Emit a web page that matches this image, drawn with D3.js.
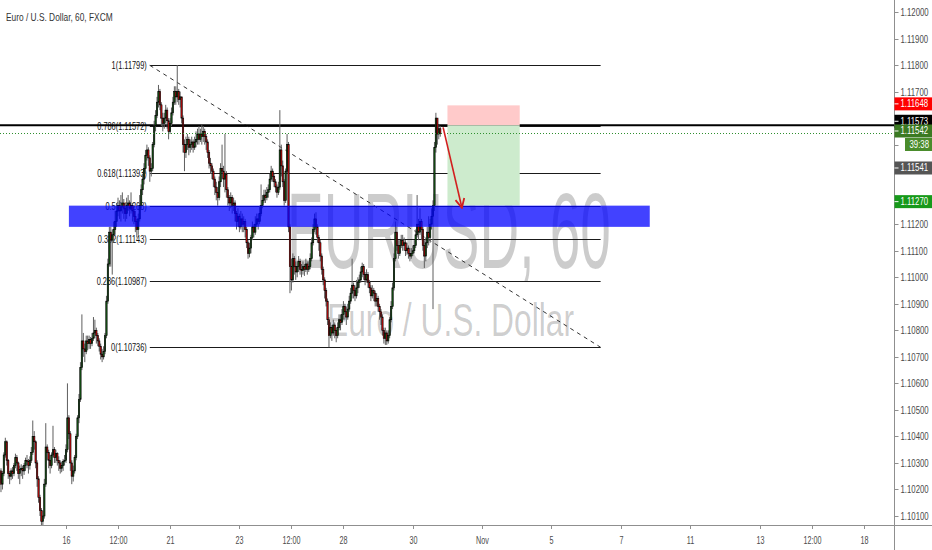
<!DOCTYPE html>
<html lang="en">
<head>
<meta charset="UTF-8">
<title>EURUSD, 60</title>
<style>
    html, body { margin: 0; padding: 0; background: #fff; }
    svg { display: block; font-family: "Liberation Sans", Arial, sans-serif; }
</style>
</head>
<body>
<svg id="chart" width="932" height="550"></svg>

<script src="https://cdnjs.cloudflare.com/ajax/libs/d3/7.8.5/d3.min.js"></script>
<script>
// hourly bars, EUR/USD FXCM
var firstOpen = 1.1027;
var firstHour = -45; // hours from Oct 16 00:00 (trading hours only)

var closes = [
    1.1022,1.1026,1.1033,1.1038,1.1031,1.1026,1.1025,1.1027,1.1026,1.1029,
    1.1032,1.1030,1.1026,1.10275,1.1028,1.1027,1.1029,1.1031,1.10305,1.1029,
    1.1031,1.1034,1.1040,1.1038,1.1030,1.1024,1.1017,1.1012,1.1008,1.1010,
    1.1022,1.1036,1.1034,1.1031,1.1029,1.1033,1.1035,1.1032,1.10335,1.1031,
    1.1030,1.1028,1.1029,1.10305,1.1031,1.1035,1.1047,1.1041,1.1030,1.1025,
    1.1027,1.1032,1.1040,1.1047,1.1054,1.1066,1.1076,1.1073,1.1072,1.1076,
    1.1075,1.10765,1.1075,1.1077,1.1079,1.1080,1.1078,1.1076,1.1074,1.1071,
    1.1070,1.1072,1.1078,1.1091,1.1105,1.1117,1.1114,1.1116,1.1118,1.1121,
    1.1125,1.1127,1.1125,1.11265,1.1128,1.1126,1.1124,1.1127,1.1128,1.1126,
    1.1127,1.1125,1.1123,1.1121,1.1118,1.1122,1.1127,1.1133,1.1137,1.1141,
    1.1146,1.1148,1.1145,1.1140,1.1141,1.1150,1.1157,1.1161,1.1166,1.1170,
    1.1165,1.1160,1.1158,1.1160,1.1163,1.1159,1.1155,1.1158,1.1162,1.1166,
    1.1170,1.1168,1.1170,1.1167,1.1168,1.1160,1.1150,1.1147,1.1150,1.1152,
    1.1149,1.1150,1.1151,1.1149,1.1151,1.1152,1.1154,1.1152,1.1154,1.1153,
    1.1155,1.1153,1.1151,1.1147,1.1143,1.1142,1.1140,1.1137,1.1134,1.1132,
    1.1130,1.1136,1.1141,1.1140,1.1137,1.1139,1.1133,1.1130,1.1128,1.1130,
    1.1127,1.1128,1.1124,1.1121,1.1123,1.1119,1.1122,1.1120,1.1121,1.1118,
    1.1113,1.1109,1.1111,1.1115,1.1119,1.1117,1.1120,1.1122,1.1121,1.1124,
    1.1127,1.1129,1.1131,1.1130,1.1132,1.1133,1.1137,1.1140,1.1138,1.1136,
    1.1134,1.1132,1.1134,1.1148,1.1142,1.1136,1.1129,1.1140,1.1150,1.1119,
    1.1104,1.1099,1.1107,1.1104,1.1102,1.1104,1.1106,1.1103,1.11025,1.1104,
    1.1103,1.1105,1.1103,1.1104,1.1107,1.1113,1.1118,1.1122,1.1119,1.1115,
    1.1113,1.1108,1.1103,1.1099,1.1095,1.1091,1.1084,1.1078,1.1081,1.1079,
    1.1082,1.1080,1.1078,1.1081,1.1084,1.1083,1.1086,1.1089,1.1087,1.1085,
    1.1088,1.1091,1.1094,1.1097,1.1095,1.1093,1.1096,1.1098,1.1099,1.1102,
    1.1104,1.1101,1.1099,1.1101,1.1098,1.1096,1.1093,1.1095,1.1094,1.1091,
    1.1092,1.1089,1.1087,1.1085,1.1080,1.1077,1.1079,1.1076,1.1078,1.1084,
    1.1089,1.1096,1.1107,1.1117,1.1112,1.1109,1.1112,1.1114,1.1112,1.1113,
    1.1110,1.1111,1.1109,1.1108,1.1109,1.1110,1.1112,1.1116,1.1120,1.1117,
    1.1121,1.1118,1.1112,1.1108,1.1113,1.1117,1.1115,1.1120,1.1123,1.1127,
    1.1149,1.1160,1.1154,1.1156,1.11542
];

var highs = [
    1.1028,1.1027,1.1034,1.10395,1.10385,1.10315,1.1027,1.1028,1.10285,1.1030,
    1.10335,1.1033,1.10305,1.1029,1.10295,1.1029,1.1030,1.1032,1.1033,1.10315,
    1.10325,1.1036,1.1046,1.1042,1.10385,1.1031,1.1025,1.1018,1.1013,1.1012,
    1.1024,1.1045,1.1037,1.1035,1.1033,1.1034,1.1044,1.1036,1.1035,1.1034,
    1.10325,1.1031,1.10305,1.10315,1.1033,1.1037,1.1060,1.1048,1.1042,1.1031,
    1.1029,1.1033,1.1041,1.1048,1.1056,1.1068,1.1086,1.1079,1.1075,1.1078,
    1.1078,1.1078,1.10775,1.1079,1.1085,1.1084,1.1081,1.1079,1.1077,1.1075,
    1.1073,1.1074,1.1079,1.1093,1.1107,1.1119,1.1119,1.1118,1.1121,1.1125,
    1.1128,1.1130,1.1129,1.1131,1.1132,1.11295,1.1128,1.1130,1.1131,1.1129,
    1.1132,1.1128,1.1127,1.1125,1.1122,1.1124,1.1131,1.1135,1.1139,1.1143,
    1.1148,1.1150,1.1149,1.1146,1.1143,1.1151,1.1159,1.1163,1.1168,1.11725,
    1.1171,1.1166,1.1162,1.1162,1.1165,1.1164,1.1160,1.1160,1.1164,1.1168,
    1.1172,1.1172,1.1180,1.1171,1.1170,1.1168,1.1161,1.1152,1.1153,1.1154,
    1.1153,1.1152,1.1153,1.1152,1.1153,1.1155,1.1156,1.1157,1.1156,1.11575,
    1.1157,1.1156,1.1154,1.1152,1.1148,1.1145,1.1143,1.1141,1.1138,1.1136,
    1.1134,1.1138,1.1143,1.1150,1.1142,1.1154,1.1140,1.1134,1.1131,1.1132,
    1.1131,1.1130,1.1129,1.1125,1.1126,1.1124,1.1125,1.1124,1.1123,1.1122,
    1.1119,1.1114,1.1113,1.1116,1.1121,1.1120,1.1123,1.1124,1.1124,1.1127,
    1.1135,1.1131,1.1133,1.1133,1.1134,1.1135,1.1139,1.1142,1.1141,1.1139,
    1.1137,1.1135,1.1136,1.1163,1.1150,1.1144,1.1137,1.1141,1.1154,1.1151,
    1.1120,1.1107,1.1109,1.1108,1.1106,1.1106,1.1108,1.1107,1.1105,1.1106,
    1.1105,1.1107,1.1106,1.1106,1.1109,1.1115,1.1120,1.1124,1.11245,1.1120,
    1.1116,1.1114,1.1109,1.1104,1.1100,1.1096,1.1092,1.1085,1.1083,1.1082,
    1.1084,1.1083,1.1081,1.1083,1.1086,1.1086,1.1088,1.1091,1.1090,1.1089,
    1.1090,1.1093,1.1096,1.1107,1.1098,1.1097,1.1099,1.1100,1.1101,1.1104,
    1.11055,1.1105,1.1102,1.1103,1.1102,1.1099,1.1097,1.1097,1.1096,1.1095,
    1.1094,1.1093,1.1090,1.1088,1.1086,1.1081,1.1081,1.1080,1.1080,1.1085,
    1.1091,1.1098,1.1109,1.1121,1.1119,1.1114,1.1114,1.1116,1.1116,1.1115,
    1.1114,1.1113,1.1112,1.1111,1.1111,1.1112,1.1114,1.1118,1.1131,1.1122,
    1.1126,1.1122,1.1119,1.1114,1.1115,1.1119,1.1123,1.1122,1.1126,1.1129,
    1.1151,1.1162,1.1157,1.11575,1.1157
];

var lows = [
    1.1019,1.1020,1.1025,1.1032,1.1029,1.1024,1.1022,1.10235,1.1024,1.1025,
    1.1028,1.1027,1.1024,1.1022,1.1025,1.1024,1.10255,1.1027,1.1028,1.1026,
    1.10275,1.1030,1.1033,1.1035,1.1028,1.1021,1.1015,1.1010,1.1005,1.1003,
    1.1009,1.1021,1.1031,1.1028,1.1026,1.1028,1.1032,1.1030,1.1030,1.1029,
    1.1027,1.1026,1.10265,1.1027,1.1029,1.1030,1.1034,1.1039,1.1027,1.1022,
    1.1023,1.1026,1.1031,1.1039,1.1045,1.1053,1.1065,1.1070,1.1068,1.1071,
    1.10725,1.1073,1.1073,1.1074,1.1076,1.1077,1.1075,1.1074,1.1072,1.1069,
    1.1068,1.1069,1.1071,1.1077,1.1090,1.1104,1.1104,1.1101,1.1113,1.1116,
    1.1119,1.1123,1.1122,1.1121,1.1124,1.1122,1.1121,1.1122,1.1125,1.1123,
    1.1124,1.1121,1.1120,1.1117,1.1115,1.1116,1.1121,1.1126,1.1131,1.1135,
    1.1139,1.1144,1.1142,1.1136,1.1138,1.1140,1.1149,1.1155,1.1160,1.1164,
    1.1163,1.1157,1.1155,1.1156,1.1158,1.1156,1.1152,1.1154,1.1157,1.1161,
    1.1165,1.1165,1.1166,1.1165,1.1164,1.1158,1.1147,1.1140,1.1145,1.1148,
    1.1146,1.1147,1.1148,1.1147,1.1148,1.1149,1.1150,1.1150,1.1151,1.1150,
    1.1151,1.1150,1.1148,1.1145,1.1141,1.1139,1.1137,1.1134,1.1131,1.1129,
    1.1127,1.1129,1.1134,1.1137,1.1134,1.1132,1.1130,1.1127,1.1125,1.1126,
    1.1124,1.1125,1.1121,1.1118,1.1119,1.1117,1.1118,1.1117,1.1117,1.1115,
    1.1111,1.1107,1.11075,1.1109,1.1114,1.1115,1.1116,1.1119,1.1118,1.1120,
    1.1123,1.1126,1.1128,1.1128,1.1129,1.1130,1.1132,1.1136,1.1136,1.1134,
    1.1132,1.1130,1.1131,1.1133,1.1138,1.1134,1.1127,1.1128,1.1139,1.1117,
    1.1094,1.1095,1.1098,1.1101,1.1099,1.1100,1.1102,1.1101,1.1100,1.1101,
    1.11005,1.1102,1.1101,1.1102,1.1103,1.1106,1.1112,1.1117,1.1116,1.1113,
    1.1110,1.1106,1.1101,1.1097,1.1092,1.1089,1.1082,1.10736,1.1077,1.1076,
    1.1078,1.1077,1.10755,1.1077,1.1080,1.1080,1.1082,1.1084,1.1084,1.1082,
    1.1084,1.1087,1.1090,1.1092,1.1092,1.1091,1.1092,1.1094,1.1096,1.1098,
    1.1100,1.1099,1.1097,1.1098,1.1096,1.1094,1.1091,1.1092,1.1091,1.1089,
    1.1089,1.1087,1.1084,1.1082,1.1078,1.1075,1.10745,1.10745,1.1075,1.1077,
    1.1083,1.1088,1.1095,1.1106,1.1110,1.1107,1.1108,1.1111,1.1110,1.1110,
    1.1108,1.11085,1.1107,1.1106,1.1107,1.1108,1.1109,1.1111,1.1115,1.1114,
    1.1116,1.1114,1.1110,1.11035,1.1106,1.1111,1.1112,1.1113,1.1118,1.1088,
    1.1125,1.1147,1.1150,1.1152,1.1153
];

// time axis labels and where they sit (trading hours from Oct 16 00:00)
var dateLabels = ["16", "12:00", "21", "23", "12:00", "28", "30", "Nov", "5", "7", "11", "13", "12:00", "18"];
var dateHours = [0, 36, 72, 120, 156, 192, 240, 288, 336, 384, 432, 480, 516, 552];

var priceTicks = [1.101, 1.102, 1.103, 1.104, 1.105, 1.106, 1.107, 1.108, 1.109, 1.110,
                  1.111, 1.112, 1.113, 1.114, 1.115, 1.116, 1.117, 1.118, 1.119, 1.120];

// drawings
var fibRatios = ["1", "0.786", "0.618", "0.5", "0.382", "0.236", "0"];
var fibPrices = [1.11799, 1.11572, 1.11393, 1.11268, 1.11143, 1.10987, 1.10736];
var fibHours = [58, 370];

var zonePrices = [1.11270, 1.11190];
var zoneHours = [2, 404];

var levelPrice = 1.11573;
var lastPrice = 1.11542;

var positionPrices = [1.11648, 1.11573, 1.11270]; // stop, entry, target
var positionHours = [264, 314];
var arrowHours = [261, 274];
var arrowPrices = [1.11565, 1.11262];

var sideTexts = ["1.11648", "1.11573", "1.11542", "39:38", "1.11541", "1.11270"];
var sideColors = ["#ff0000", "#000000", "#3b7a22", "#4a8c2c", "#555555", "#17991a"];

var W = 932, H = 550, axisX = 894.5, axisY = 525;

var svg = d3.select("#chart");
var x = d3.scaleLinear().domain([0, 552]).range([66, 863.6]);
var y = d3.scaleLinear().domain([1.101, 1.12]).range([516, 12]);

var candles = closes.map(function (c, i) {
    var o = i === 0 ? firstOpen : closes[i - 1];
    return {
        t: firstHour + i, o: o, c: c,
        hi: Math.max(highs[i], o, c),
        lo: Math.min(lows[i], o, c)
    };
});

// squeezed text, the chart font is narrow
function label(g, px, py, str, size, sx, anchor, fill) {
    return g.append("text")
        .attr("transform", "translate(" + px + "," + py + ") scale(" + sx + ",1)")
        .attr("text-anchor", anchor)
        .attr("font-size", size)
        .attr("fill", fill)
        .text(str);
}

// text squeezed to an exact width
function fitted(g, px, py, str, size, width, fill) {
    var t = g.append("text").attr("font-size", size).attr("fill", fill).text(str);
    var len = t.node().getComputedTextLength();
    t.attr("transform", "translate(" + px + "," + py + ") scale(" + (width / len) + ",1)");
    return t;
}

svg.append("defs").append("clipPath").attr("id", "plot")
    .append("rect").attr("x", 0).attr("y", 0).attr("width", axisX).attr("height", axisY);

svg.append("defs").append("marker")
    .attr("id", "head").attr("viewBox", "0 0 10 10")
    .attr("refX", 9).attr("refY", 5)
    .attr("markerWidth", 7).attr("markerHeight", 7)
    .attr("orient", "auto")
    .append("path").attr("d", "M1,1 L9,5 L1,9")
    .attr("fill", "none").attr("stroke", "#d21f1f").attr("stroke-width", 1.6);

var plot = svg.append("g").attr("clip-path", "url(#plot)");

// watermark
fitted(plot, 287, 268, "EURUSD, 60", 108, 324, "rgba(0,0,0,0.2)");
fitted(plot, 327, 336, "Euro / U.S. Dollar", 46, 247, "rgba(0,0,0,0.2)");

// fib retracement
var fibG = plot.append("g");
fibG.selectAll("line.fib").data(fibPrices).enter().append("line")
    .attr("class", "fib")
    .attr("x1", x(fibHours[0])).attr("x2", x(fibHours[1]))
    .attr("y1", function (d) { return Math.round(y(d)) + 0.5; })
    .attr("y2", function (d) { return Math.round(y(d)) + 0.5; })
    .attr("stroke", "#1a1a1a").attr("stroke-width", 1);
fibPrices.forEach(function (p, i) {
    label(fibG, x(fibHours[0]) - 3, Math.round(y(p)) + 3.5,
        fibRatios[i] + "(" + p.toFixed(5) + ")", 10, 0.74, "end", "#111");
});
fibG.append("line")
    .attr("x1", x(fibHours[0])).attr("y1", y(fibPrices[0]))
    .attr("x2", x(fibHours[1])).attr("y2", y(fibPrices[fibPrices.length - 1]))
    .attr("stroke", "#333").attr("stroke-width", 1).attr("stroke-dasharray", "4,4");

// horizontal level
plot.append("line")
    .attr("x1", 0).attr("x2", axisX)
    .attr("y1", y(levelPrice)).attr("y2", y(levelPrice))
    .attr("stroke", "#000").attr("stroke-width", 2);

// short position box
plot.append("rect")
    .attr("x", x(positionHours[0])).attr("width", x(positionHours[1]) - x(positionHours[0]))
    .attr("y", y(positionPrices[0])).attr("height", y(positionPrices[1]) - y(positionPrices[0]))
    .attr("fill", "#ffcaca");
plot.append("rect")
    .attr("x", x(positionHours[0])).attr("width", x(positionHours[1]) - x(positionHours[0]))
    .attr("y", y(positionPrices[1])).attr("height", y(positionPrices[2]) - y(positionPrices[1]))
    .attr("fill", "#cdebcd");

// candles
var bw = (x(1) - x(0)) * 0.95;
var cg = plot.append("g");
cg.selectAll("line.wick").data(candles).enter().append("line")
    .attr("class", "wick")
    .attr("x1", function (d) { return x(d.t); })
    .attr("x2", function (d) { return x(d.t); })
    .attr("y1", function (d) { return y(d.hi); })
    .attr("y2", function (d) { return y(d.lo); })
    .attr("stroke", "#5e5e5e").attr("stroke-width", 1);
cg.selectAll("rect.body").data(candles).enter().append("rect")
    .attr("class", "body")
    .attr("x", function (d) { return x(d.t) - bw / 2; })
    .attr("width", bw)
    .attr("y", function (d) { return y(Math.max(d.o, d.c)); })
    .attr("height", function (d) { return Math.max(1, Math.abs(y(d.o) - y(d.c))); })
    .attr("fill", function (d) { return d.c >= d.o ? "#175c17" : "#cc0c0c"; })
    .attr("stroke", "#000").attr("stroke-width", 0.6);

// demand/supply zone
plot.append("rect")
    .attr("x", x(zoneHours[0])).attr("width", x(zoneHours[1]) - x(zoneHours[0]))
    .attr("y", y(zonePrices[0])).attr("height", y(zonePrices[1]) - y(zonePrices[0]))
    .attr("fill", "#0000ff").attr("fill-opacity", 0.74);

// last price line
plot.append("line")
    .attr("x1", 0).attr("x2", axisX)
    .attr("y1", Math.round(y(lastPrice)) + 0.5).attr("y2", Math.round(y(lastPrice)) + 0.5)
    .attr("stroke", "#2f8f2f").attr("stroke-width", 1).attr("stroke-dasharray", "1,2");

// arrow
plot.append("line")
    .attr("x1", x(arrowHours[0])).attr("y1", y(arrowPrices[0]))
    .attr("x2", x(arrowHours[1])).attr("y2", y(arrowPrices[1]))
    .attr("stroke", "#d21f1f").attr("stroke-width", 1.6)
    .attr("marker-end", "url(#head)");

// axes
svg.append("line").attr("x1", 0).attr("x2", W).attr("y1", axisY + 0.5).attr("y2", axisY + 0.5)
    .attr("stroke", "#8f8f8f");
svg.append("line").attr("x1", axisX).attr("x2", axisX).attr("y1", 0).attr("y2", H)
    .attr("stroke", "#8f8f8f");

// price labels on the scale, pushed apart so they do not overlap
var sideY = [y(positionPrices[0]) - 1.5, y(levelPrice) - 4, y(lastPrice) - 2.5, 0, 0, y(positionPrices[2]) - 4];
sideY[3] = sideY[2] + 13.5;
sideY[4] = sideY[3] + 23.5;

var yg = svg.append("g");
priceTicks.forEach(function (p) {
    var py = Math.round(y(p)) + 0.5;
    yg.append("line").attr("x1", axisX).attr("x2", axisX + 4).attr("y1", py).attr("y2", py)
        .attr("stroke", "#8f8f8f");
    // tick labels hidden under a price tag are not drawn
    var covered = sideY.some(function (s) { return Math.abs(s - py) < 11; });
    if (!covered) label(yg, axisX + 6, py + 3.5, p.toFixed(5), 10, 0.78, "start", "#4a4a4a");
});

var xg = svg.append("g");
dateLabels.forEach(function (s, i) {
    var px = Math.round(x(dateHours[i])) + 0.5;
    xg.append("line").attr("x1", px).attr("x2", px).attr("y1", axisY).attr("y2", axisY + 4)
        .attr("stroke", "#8f8f8f");
    label(xg, px, axisY + 19, s, 10, 0.72, "middle", "#4a4a4a");
});

var sg = svg.append("g");
sideTexts.forEach(function (s, i) {
    var bx = i === 3 ? 905 : axisX;
    sg.append("rect").attr("x", bx).attr("y", sideY[i] - 6.5)
        .attr("width", W - bx).attr("height", 13).attr("fill", sideColors[i]);
    if (i !== 3) {
        sg.append("line").attr("x1", axisX).attr("x2", axisX + 4)
            .attr("y1", sideY[i]).attr("y2", sideY[i]).attr("stroke", "#fff");
    }
    label(sg, i === 3 ? 929 : axisX + 6, sideY[i] + 3.5, s, 10, 0.78, i === 3 ? "end" : "start", "#fff");
});

// title
label(svg, 6, 21, "Euro / U.S. Dollar, 60, FXCM", 11, 0.76, "start", "#333");
</script>
</body>
</html>
